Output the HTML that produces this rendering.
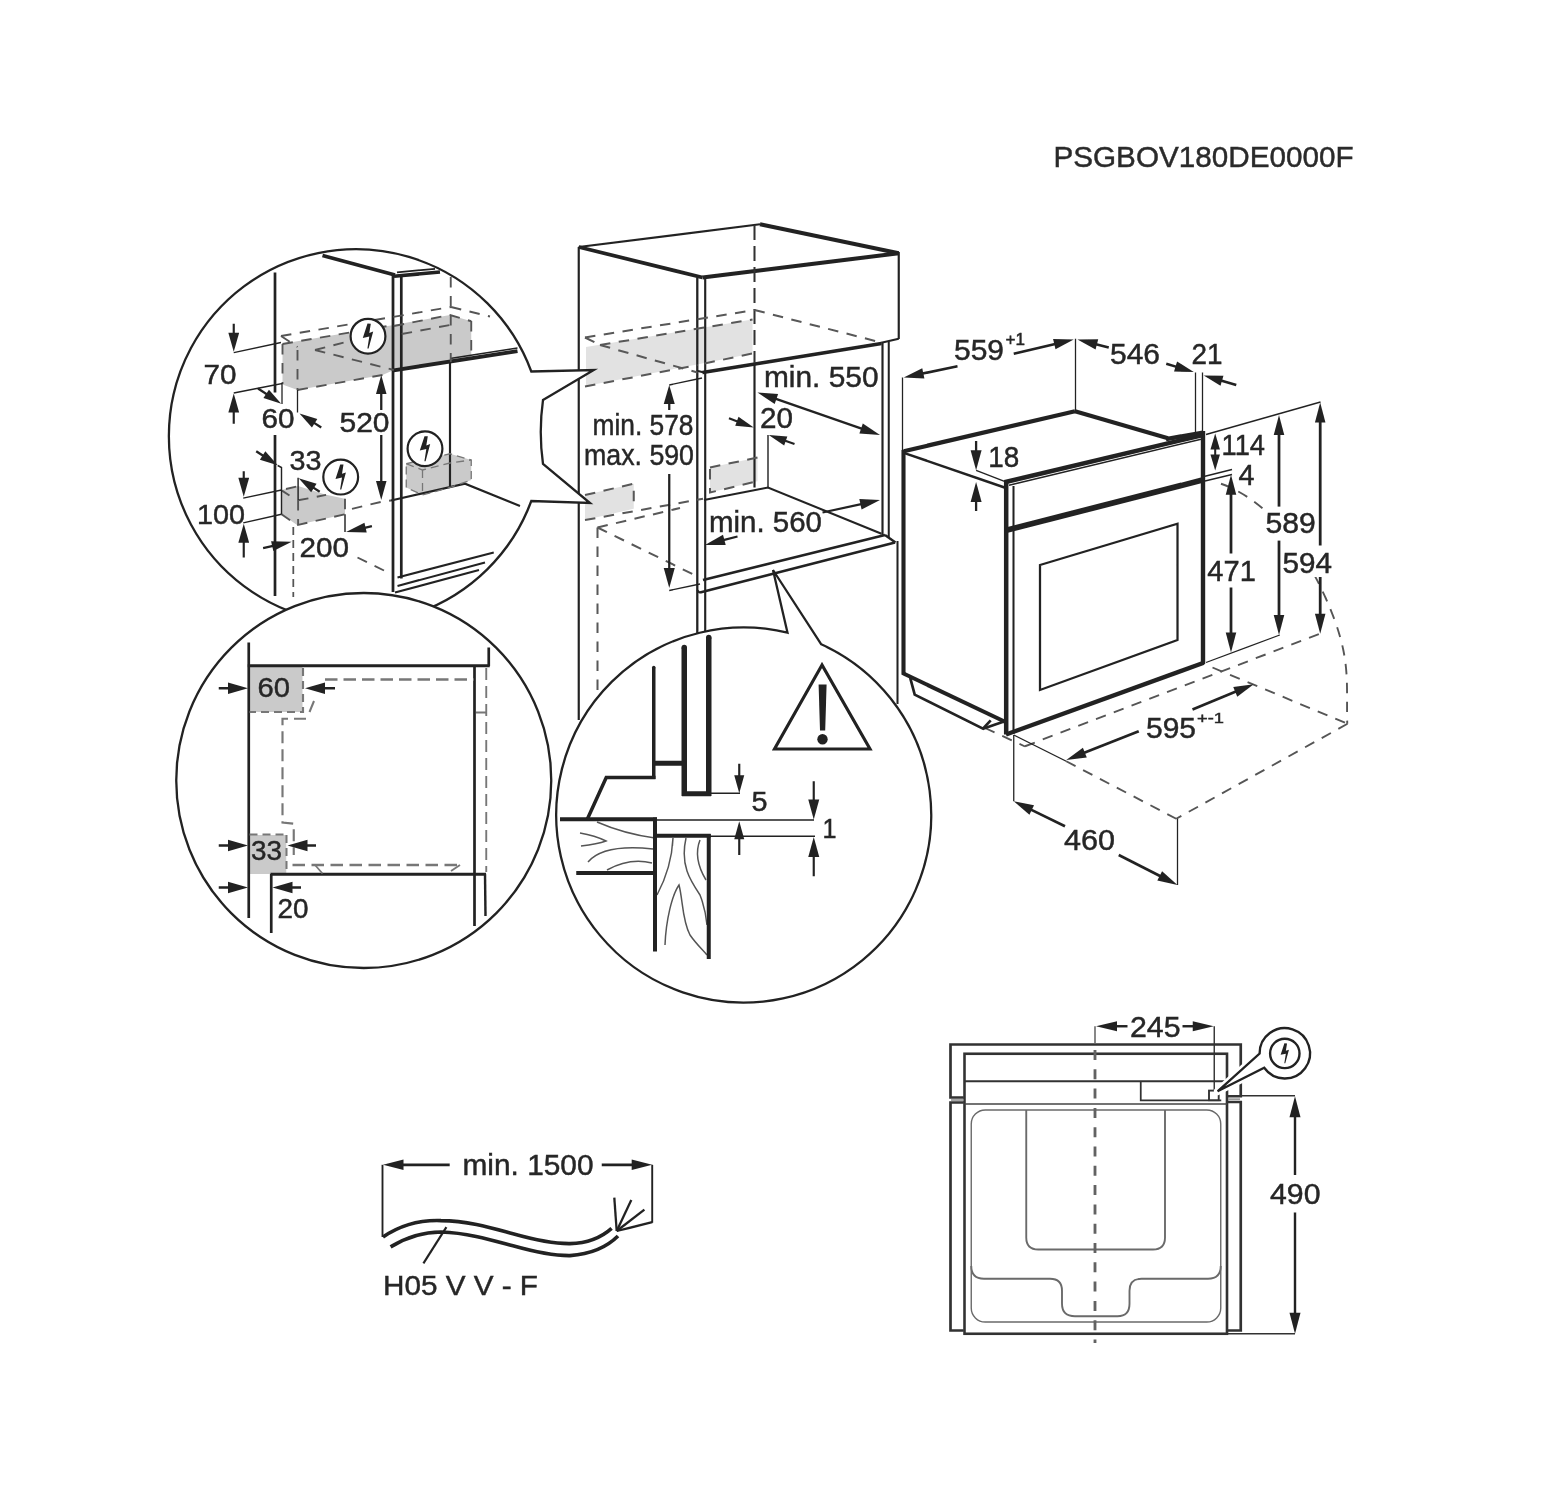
<!DOCTYPE html>
<html><head><meta charset="utf-8"><title>Installation diagram</title>
<style>
html,body{margin:0;padding:0;background:#fff;}
body{width:1554px;height:1486px;overflow:hidden;}
svg{display:block;font-family:"Liberation Sans",sans-serif;}
</style></head><body>
<svg width="1554" height="1486" viewBox="0 0 1554 1486">
<defs><filter id="soft" x="0" y="0" width="1554" height="1486" filterUnits="userSpaceOnUse"><feGaussianBlur stdDeviation="0.75"/></filter></defs>
<rect width="1554" height="1486" fill="#fff"/>
<g filter="url(#soft)">
<text x="1053.5" y="166.5" font-size="29.5" text-anchor="start" fill="#2b2b2b" stroke="#2b2b2b" stroke-width="0.45" textLength="300" lengthAdjust="spacingAndGlyphs" >PSGBOV180DE0000F</text>
<polygon points="586,347 752.5,319.5 752.5,353.5 697,364.5 586,386" fill="#e2e2e2"/>
<polygon points="585,495 633.75,483.75 633.75,508.75 585,520" fill="#e2e2e2"/>
<polygon points="710,467.5 757.5,457.5 757.5,481.25 710,492.5" fill="#e2e2e2"/>
<line x1="578.75" y1="247" x2="578.75" y2="720" stroke="#222" stroke-width="2.16" stroke-linecap="butt"/>
<line x1="578.75" y1="247" x2="760" y2="224.25" stroke="#222" stroke-width="2.16" stroke-linecap="butt"/>
<line x1="760" y1="224.25" x2="898.75" y2="253.25" stroke="#222" stroke-width="3.96" stroke-linecap="butt"/>
<line x1="578.75" y1="247" x2="702.5" y2="277.5" stroke="#222" stroke-width="3.7" stroke-linecap="butt"/>
<line x1="702.5" y1="277.5" x2="898.75" y2="253.25" stroke="#222" stroke-width="4.08" stroke-linecap="butt"/>
<line x1="898.75" y1="252" x2="898.75" y2="339" stroke="#222" stroke-width="2.16" stroke-linecap="butt"/>
<line x1="697.3" y1="277.5" x2="697.3" y2="640" stroke="#222" stroke-width="2.29" stroke-linecap="butt"/>
<line x1="705.2" y1="279" x2="705.2" y2="640" stroke="#222" stroke-width="2.16" stroke-linecap="butt"/>
<line x1="702.5" y1="372.5" x2="881.5" y2="343.5" stroke="#222" stroke-width="3.6" stroke-linecap="butt"/>
<line x1="698" y1="371" x2="704" y2="372.5" stroke="#222" stroke-width="2.03" stroke-linecap="butt"/>
<line x1="881.25" y1="342.7" x2="898.75" y2="338.75" stroke="#222" stroke-width="2.03" stroke-linecap="butt"/>
<line x1="882.5" y1="342.5" x2="882.5" y2="536" stroke="#222" stroke-width="2.16" stroke-linecap="butt"/>
<line x1="888.75" y1="341.5" x2="888.75" y2="538" stroke="#222" stroke-width="2.03" stroke-linecap="butt"/>
<line x1="897.5" y1="541" x2="897.5" y2="704" stroke="#222" stroke-width="2.03" stroke-linecap="butt"/>
<line x1="703" y1="580" x2="885" y2="535" stroke="#222" stroke-width="2.76" stroke-linecap="butt"/>
<line x1="700" y1="592.5" x2="895" y2="542.5" stroke="#222" stroke-width="2.76" stroke-linecap="butt"/>
<line x1="885" y1="535" x2="895.5" y2="542.5" stroke="#222" stroke-width="2.43" stroke-linecap="butt"/>
<line x1="697" y1="590" x2="700" y2="593" stroke="#222" stroke-width="2.03" stroke-linecap="butt"/>
<line x1="754.5" y1="362.5" x2="754.5" y2="487.5" stroke="#222" stroke-width="2.16" stroke-linecap="butt"/>
<line x1="768" y1="435" x2="768" y2="487.5" stroke="#222" stroke-width="1.43" stroke-linecap="butt"/>
<polyline points="704,500 768,487.5 881.5,533.75" fill="none" stroke="#222" stroke-width="2.16" stroke-linejoin="miter"/>
<line x1="754.5" y1="225" x2="754.5" y2="362.5" stroke="#333" stroke-width="2.03" stroke-dasharray="15 6" stroke-linecap="butt"/>
<line x1="585" y1="337.5" x2="754.5" y2="310" stroke="#585858" stroke-width="2.03" stroke-dasharray="10.5 8.5" stroke-linecap="butt"/>
<line x1="754.5" y1="310" x2="881.25" y2="342.5" stroke="#585858" stroke-width="2.03" stroke-dasharray="10.5 8.5" stroke-linecap="butt"/>
<line x1="600" y1="345" x2="752.5" y2="319.5" stroke="#585858" stroke-width="2.03" stroke-dasharray="10.5 8.5" stroke-linecap="butt"/>
<line x1="585" y1="337.5" x2="600" y2="345" stroke="#585858" stroke-width="2.03" stroke-dasharray="10.5 8.5" stroke-linecap="butt"/>
<line x1="600" y1="345" x2="697.5" y2="372.5" stroke="#585858" stroke-width="2.03" stroke-dasharray="10.5 8.5" stroke-linecap="butt"/>
<line x1="585" y1="386.5" x2="697.5" y2="365" stroke="#585858" stroke-width="2.03" stroke-dasharray="10.5 8.5" stroke-linecap="butt"/>
<line x1="704.5" y1="363.5" x2="752.5" y2="353.5" stroke="#585858" stroke-width="2.03" stroke-dasharray="10.5 8.5" stroke-linecap="butt"/>
<polyline points="585,495 633.75,483.75 633.75,508.75" fill="none" stroke="#585858" stroke-width="2.03" stroke-dasharray="10.5 8.5" stroke-linejoin="miter"/>
<polyline points="710,467.5 757.5,457.5" fill="none" stroke="#585858" stroke-width="2.03" stroke-dasharray="10.5 8.5" stroke-linejoin="miter"/>
<polyline points="710,469 710,492.5 757.5,481.25" fill="none" stroke="#585858" stroke-width="2.03" stroke-dasharray="10.5 8.5" stroke-linejoin="miter"/>
<line x1="585" y1="520" x2="703" y2="498.75" stroke="#585858" stroke-width="2.03" stroke-dasharray="10.5 8.5" stroke-linecap="butt"/>
<line x1="597.5" y1="527.5" x2="680" y2="508" stroke="#585858" stroke-width="2.03" stroke-dasharray="10.5 8.5" stroke-linecap="butt"/>
<line x1="597.5" y1="527.5" x2="597.5" y2="695" stroke="#585858" stroke-width="2.03" stroke-dasharray="10.5 8.5" stroke-linecap="butt"/>
<line x1="597.5" y1="527.5" x2="697" y2="576.25" stroke="#585858" stroke-width="2.03" stroke-dasharray="10.5 8.5" stroke-linecap="butt"/>
<line x1="669.25" y1="385" x2="702" y2="378" stroke="#222" stroke-width="1.3" stroke-linecap="butt"/>
<line x1="669.25" y1="410" x2="669.25" y2="402" stroke="#222" stroke-width="2.29" stroke-linecap="butt"/>
<polygon points="669.25,385 674.75,404 663.75,404" fill="#222"/>
<line x1="669.25" y1="474" x2="669.25" y2="570" stroke="#222" stroke-width="2.29" stroke-linecap="butt"/>
<polygon points="669.25,588 663.75,568 674.75,568" fill="#222"/>
<line x1="669.25" y1="590.5" x2="700" y2="584" stroke="#222" stroke-width="1.3" stroke-linecap="butt"/>
<text x="592.5" y="435.3" font-size="28.6" text-anchor="start" fill="#262626" stroke="#262626" stroke-width="0.45" textLength="101" lengthAdjust="spacingAndGlyphs" >min. 578</text>
<text x="584" y="465.3" font-size="28.6" text-anchor="start" fill="#262626" stroke="#262626" stroke-width="0.45" textLength="110" lengthAdjust="spacingAndGlyphs" >max. 590</text>
<text x="764" y="386.5" font-size="28.6" text-anchor="start" fill="#262626" stroke="#262626" stroke-width="0.45" textLength="114.5" lengthAdjust="spacingAndGlyphs" >min. 550</text>
<polygon points="757.5,392.5 778.12,394.1 774.67,404.02" fill="#222"/>
<line x1="774.51" y1="398.4" x2="862.99" y2="429.1" stroke="#222" stroke-width="2.29" stroke-linecap="butt"/>
<polygon points="880,435 859.38,433.4 862.83,423.48" fill="#222"/>
<text x="760" y="427.7" font-size="28.6" text-anchor="start" fill="#262626" stroke="#262626" stroke-width="0.45" textLength="33" lengthAdjust="spacingAndGlyphs" >20</text>
<line x1="729" y1="418.3" x2="738.75" y2="421.93" stroke="#222" stroke-width="2.16" stroke-linecap="butt"/>
<polygon points="753.75,427.5 735.22,425.68 738.53,416.78" fill="#222"/>
<line x1="794.5" y1="444" x2="783.85" y2="440.28" stroke="#222" stroke-width="2.16" stroke-linecap="butt"/>
<polygon points="768.75,435 787.31,436.45 784.17,445.42" fill="#222"/>
<text x="709" y="531.5" font-size="28.6" text-anchor="start" fill="#262626" stroke="#262626" stroke-width="0.45" textLength="113" lengthAdjust="spacingAndGlyphs" >min. 560</text>
<line x1="822.5" y1="512.5" x2="862.41" y2="503.82" stroke="#222" stroke-width="2.29" stroke-linecap="butt"/>
<polygon points="880,500 861.57,509.38 859.34,499.12" fill="#222"/>
<line x1="737.5" y1="536.5" x2="722.41" y2="540.45" stroke="#222" stroke-width="2.29" stroke-linecap="butt"/>
<polygon points="705,545 723.02,534.86 725.68,545.02" fill="#222"/>
<line x1="1025" y1="746.25" x2="1320" y2="633.75" stroke="#555" stroke-width="1.89" stroke-dasharray="10.5 8.5" stroke-linecap="butt"/>
<line x1="1212.5" y1="667.5" x2="1347.5" y2="723.75" stroke="#555" stroke-width="1.89" stroke-dasharray="10.5 8.5" stroke-linecap="butt"/>
<line x1="1347.5" y1="723.75" x2="1176.25" y2="818.75" stroke="#555" stroke-width="1.89" stroke-dasharray="10.5 8.5" stroke-linecap="butt"/>
<line x1="1066.25" y1="761.25" x2="1176.25" y2="818.75" stroke="#555" stroke-width="1.89" stroke-dasharray="10.5 8.5" stroke-linecap="butt"/>
<line x1="985" y1="728" x2="1025" y2="746.5" stroke="#555" stroke-width="1.89" stroke-dasharray="10.5 8.5" stroke-linecap="butt"/>
<path d="M1221,483.75 C1262,498 1300,540 1326,598.75 S1346,680 1347.25,723.75" fill="none" stroke="#555" stroke-width="1.89" stroke-dasharray="10.5 8.5" />
<line x1="903.75" y1="451.25" x2="1075" y2="411.25" stroke="#222" stroke-width="4.3" stroke-linecap="butt"/>
<line x1="1075" y1="411.25" x2="1168" y2="438.2" stroke="#222" stroke-width="4.1" stroke-linecap="butt"/>
<line x1="1166" y1="439.2" x2="1203" y2="432.6" stroke="#222" stroke-width="4.4" stroke-linecap="butt"/>
<line x1="903.75" y1="452.8" x2="1004.5" y2="487.5" stroke="#222" stroke-width="2.43" stroke-linecap="butt"/>
<line x1="1004.5" y1="482.3" x2="1203" y2="435" stroke="#222" stroke-width="4.6" stroke-linecap="butt"/>
<line x1="1009" y1="485.3" x2="1201" y2="439.2" stroke="#222" stroke-width="1.43" stroke-linecap="butt"/>
<line x1="903.5" y1="450" x2="903.5" y2="674.5" stroke="#222" stroke-width="4.1" stroke-linecap="butt"/>
<line x1="1006.2" y1="480.5" x2="1006.2" y2="734.5" stroke="#222" stroke-width="4.5" stroke-linecap="butt"/>
<line x1="1013.5" y1="486" x2="1013.5" y2="734" stroke="#222" stroke-width="2.03" stroke-linecap="butt"/>
<line x1="1203" y1="431" x2="1203" y2="664" stroke="#222" stroke-width="4.4" stroke-linecap="butt"/>
<line x1="1006.25" y1="530.3" x2="1202.5" y2="480" stroke="#222" stroke-width="5.6" stroke-linecap="butt"/>
<line x1="1006" y1="734.5" x2="1203.75" y2="662.7" stroke="#222" stroke-width="4.4" stroke-linecap="butt"/>
<line x1="902.5" y1="673" x2="1005.5" y2="722" stroke="#222" stroke-width="4.0" stroke-linecap="butt"/>
<polyline points="910.2,677.9 914.7,694.6 983,728.7 990.7,720.3" fill="none" stroke="#222" stroke-width="2.7" stroke-linejoin="miter"/>
<line x1="983" y1="728.7" x2="1004" y2="721.5" stroke="#222" stroke-width="2.7" stroke-linecap="butt"/>
<polygon points="1040,565 1177.5,523.75 1177.5,640 1040,690" fill="none" stroke="#222" stroke-width="2.23" stroke-linejoin="miter"/>
<line x1="902.5" y1="377.5" x2="902.5" y2="450" stroke="#222" stroke-width="1.3" stroke-linecap="butt"/>
<line x1="1075.5" y1="338.75" x2="1075.5" y2="411" stroke="#222" stroke-width="1.3" stroke-linecap="butt"/>
<line x1="1195.5" y1="372.5" x2="1195.5" y2="433" stroke="#222" stroke-width="1.3" stroke-linecap="butt"/>
<line x1="1202.5" y1="372.5" x2="1202.5" y2="432.5" stroke="#222" stroke-width="1.3" stroke-linecap="butt"/>
<line x1="1206" y1="434.5" x2="1320.5" y2="402" stroke="#222" stroke-width="1.3" stroke-linecap="butt"/>
<line x1="1205" y1="476.25" x2="1232" y2="469.5" stroke="#222" stroke-width="1.3" stroke-linecap="butt"/>
<line x1="1205" y1="481" x2="1232" y2="474.5" stroke="#222" stroke-width="1.3" stroke-linecap="butt"/>
<line x1="1206" y1="662.5" x2="1279.75" y2="635" stroke="#222" stroke-width="1.3" stroke-linecap="butt"/>
<line x1="1013.75" y1="735" x2="1066.25" y2="761.25" stroke="#222" stroke-width="1.3" stroke-linecap="butt"/>
<line x1="1013.75" y1="735" x2="1013.75" y2="801.25" stroke="#222" stroke-width="1.3" stroke-linecap="butt"/>
<line x1="1177.5" y1="818.75" x2="1177.5" y2="885" stroke="#222" stroke-width="1.3" stroke-linecap="butt"/>
<line x1="976.1" y1="470.3" x2="1004.5" y2="481.3" stroke="#222" stroke-width="1.3" stroke-linecap="butt"/>
<line x1="957.5" y1="366.25" x2="921.37" y2="373.81" stroke="#222" stroke-width="2.56" stroke-linecap="butt"/>
<polygon points="903.75,377.5 922.25,368.26 924.4,378.54" fill="#222"/>
<line x1="1013.75" y1="353.75" x2="1056.24" y2="343.66" stroke="#222" stroke-width="2.56" stroke-linecap="butt"/>
<polygon points="1073.75,339.5 1055.5,349.23 1053.08,339.01" fill="#222"/>
<text x="954" y="360" font-size="28.8" text-anchor="start" fill="#262626" stroke="#262626" stroke-width="0.45" textLength="50" lengthAdjust="spacingAndGlyphs" >559</text>
<text x="1005.5" y="345.3" font-size="16" text-anchor="start" fill="#262626" stroke="#262626" stroke-width="0.45" textLength="19.5" lengthAdjust="spacingAndGlyphs" >+1</text>
<line x1="1108.75" y1="347.5" x2="1094.94" y2="343.96" stroke="#222" stroke-width="2.56" stroke-linecap="butt"/>
<polygon points="1077.5,339.5 1098.18,339.37 1095.57,349.55" fill="#222"/>
<line x1="1166.25" y1="363.75" x2="1177.47" y2="367.12" stroke="#222" stroke-width="2.56" stroke-linecap="butt"/>
<polygon points="1193.75,372 1174.04,371.57 1177.06,361.51" fill="#222"/>
<text x="1110" y="363.8" font-size="28.8" text-anchor="start" fill="#262626" stroke="#262626" stroke-width="0.45" textLength="50" lengthAdjust="spacingAndGlyphs" >546</text>
<text x="1191.5" y="363.8" font-size="28.8" text-anchor="start" fill="#262626" stroke="#262626" stroke-width="0.45" textLength="31" lengthAdjust="spacingAndGlyphs" >21</text>
<line x1="1236.25" y1="385" x2="1220.07" y2="380.27" stroke="#222" stroke-width="2.56" stroke-linecap="butt"/>
<polygon points="1203.75,375.5 1223.46,375.79 1220.51,385.87" fill="#222"/>
<text x="988.2" y="467.4" font-size="28.8" text-anchor="start" fill="#262626" stroke="#262626" stroke-width="0.45" textLength="31" lengthAdjust="spacingAndGlyphs" >18</text>
<line x1="976.1" y1="441" x2="976.1" y2="452.3" stroke="#222" stroke-width="2.29" stroke-linecap="butt"/>
<polygon points="976.1,470.3 970.6,450.3 981.6,450.3" fill="#222"/>
<line x1="976.1" y1="511" x2="976.1" y2="500" stroke="#222" stroke-width="2.29" stroke-linecap="butt"/>
<polygon points="976.1,482 981.6,502 970.6,502" fill="#222"/>
<polygon points="1215.2,433.5 1219.95,449.5 1210.45,449.5" fill="#222"/>
<line x1="1215.2" y1="447.5" x2="1215.2" y2="456.5" stroke="#222" stroke-width="2.03" stroke-linecap="butt"/>
<polygon points="1215.2,470.5 1210.45,454.5 1219.95,454.5" fill="#222"/>
<text x="1221.5" y="454.5" font-size="28.8" text-anchor="start" fill="#262626" stroke="#262626" stroke-width="0.45" textLength="43.5" lengthAdjust="spacingAndGlyphs" >114</text>
<text x="1238.5" y="484.8" font-size="28.8" text-anchor="start" fill="#262626" stroke="#262626" stroke-width="0.45" textLength="16" lengthAdjust="spacingAndGlyphs" >4</text>
<line x1="1231" y1="553.5" x2="1231" y2="492.8" stroke="#222" stroke-width="2.77" stroke-linecap="butt"/>
<polygon points="1231,474.8 1236.25,494.8 1225.75,494.8" fill="#222"/>
<line x1="1231" y1="587.5" x2="1231" y2="634.5" stroke="#222" stroke-width="2.77" stroke-linecap="butt"/>
<polygon points="1231,652.5 1225.75,632.5 1236.25,632.5" fill="#222"/>
<text x="1207.3" y="580.5" font-size="28.8" text-anchor="start" fill="#262626" stroke="#262626" stroke-width="0.45" textLength="48.5" lengthAdjust="spacingAndGlyphs" >471</text>
<polygon points="1264,509 1318,509 1318,548 1334,548 1334,577 1281,577 1281,536 1264,536" fill="#fff"/>
<line x1="1279" y1="506.6" x2="1279" y2="433" stroke="#222" stroke-width="2.77" stroke-linecap="butt"/>
<polygon points="1279,415 1284.25,435 1273.75,435" fill="#222"/>
<line x1="1279" y1="540.6" x2="1279" y2="617" stroke="#222" stroke-width="2.77" stroke-linecap="butt"/>
<polygon points="1279,635 1273.75,615 1284.25,615" fill="#222"/>
<text x="1265.4" y="533.3" font-size="28.8" text-anchor="start" fill="#262626" stroke="#262626" stroke-width="0.45" textLength="50.3" lengthAdjust="spacingAndGlyphs" >589</text>
<line x1="1320.2" y1="545.5" x2="1320.2" y2="420.5" stroke="#222" stroke-width="2.77" stroke-linecap="butt"/>
<polygon points="1320.2,402.5 1325.45,422.5 1314.95,422.5" fill="#222"/>
<line x1="1320.2" y1="577" x2="1320.2" y2="615.75" stroke="#222" stroke-width="2.77" stroke-linecap="butt"/>
<polygon points="1320.2,633.75 1314.95,613.75 1325.45,613.75" fill="#222"/>
<text x="1282.4" y="572.7" font-size="28.8" text-anchor="start" fill="#262626" stroke="#262626" stroke-width="0.45" textLength="49.5" lengthAdjust="spacingAndGlyphs" >594</text>
<line x1="1065" y1="826.25" x2="1029.93" y2="809.14" stroke="#222" stroke-width="2.7" stroke-linecap="butt"/>
<polygon points="1013.75,801.25 1034.03,805.3 1029.42,814.74" fill="#222"/>
<line x1="1118.75" y1="855" x2="1161.47" y2="876.81" stroke="#222" stroke-width="2.7" stroke-linecap="butt"/>
<polygon points="1177.5,885 1157.3,880.58 1162.08,871.23" fill="#222"/>
<text x="1064" y="850" font-size="28.8" text-anchor="start" fill="#262626" stroke="#262626" stroke-width="0.45" textLength="51" lengthAdjust="spacingAndGlyphs" >460</text>
<line x1="1138.75" y1="731.25" x2="1082.98" y2="753.36" stroke="#222" stroke-width="2.7" stroke-linecap="butt"/>
<polygon points="1066.25,760 1082.91,747.75 1086.78,757.51" fill="#222"/>
<line x1="1192.5" y1="709.5" x2="1237.11" y2="691.11" stroke="#222" stroke-width="2.7" stroke-linecap="butt"/>
<polygon points="1253.75,684.25 1237.26,696.73 1233.26,687.02" fill="#222"/>
<text x="1146" y="737.5" font-size="28.8" text-anchor="start" fill="#262626" stroke="#262626" stroke-width="0.45" textLength="50" lengthAdjust="spacingAndGlyphs" >595</text>
<text x="1197" y="722.5" font-size="15.5" text-anchor="start" fill="#262626" stroke="#262626" stroke-width="0.45" textLength="27" lengthAdjust="spacingAndGlyphs" >+-1</text>
<clipPath id="c1"><path d="M531.3,371.5 A187 187 0 1 0 531.3,501 L590,503 L543,464 Q538.5,432 543,400 L593.75,370 Z"/></clipPath>
<path d="M531.3,371.5 A187 187 0 1 0 531.3,501 L590,503 L543,464 Q538.5,432 543,400 L593.75,370 Z" fill="#fff" stroke="#222" stroke-width="2.29" />
<g clip-path="url(#c1)">
<polygon points="282.5,343.75 393.75,325 393.75,370 382.5,375 297.5,390 282.5,384.5" fill="#cacaca"/>
<polygon points="393.75,325 450,315 471.25,321.25 471.25,357.5 393.75,370" fill="#cacaca"/>
<polygon points="281.5,490.1 298.1,486.1 325.1,494.4 345,498.7 345,514.3 297.1,525.1 281.5,514.3" fill="#cacaca"/>
<polygon points="406.25,463.75 450,453.75 471.25,460 471.25,480 450,487.5 422.5,495 406.25,487.5" fill="#cacaca"/>
<line x1="275" y1="272.5" x2="275" y2="392.5" stroke="#222" stroke-width="2.7" stroke-linecap="butt"/>
<line x1="275" y1="435" x2="275" y2="596" stroke="#222" stroke-width="2.7" stroke-linecap="butt"/>
<line x1="322.5" y1="255.5" x2="395" y2="275" stroke="#222" stroke-width="3.84" stroke-linecap="butt"/>
<line x1="397" y1="272.3" x2="435" y2="268.8" stroke="#222" stroke-width="1.76" stroke-linecap="butt"/>
<line x1="394" y1="276.3" x2="440" y2="272" stroke="#222" stroke-width="3.6" stroke-linecap="butt"/>
<line x1="393" y1="274" x2="393" y2="592" stroke="#222" stroke-width="2.76" stroke-linecap="butt"/>
<line x1="401.3" y1="277" x2="401.3" y2="578.5" stroke="#222" stroke-width="2.7" stroke-linecap="butt"/>
<line x1="450" y1="362.5" x2="450" y2="486" stroke="#222" stroke-width="2.16" stroke-linecap="butt"/>
<line x1="393.75" y1="370.3" x2="517.5" y2="351.2" stroke="#222" stroke-width="3.84" stroke-linecap="butt"/>
<line x1="450" y1="358.5" x2="517.5" y2="348" stroke="#222" stroke-width="1.3" stroke-linecap="butt"/>
<polyline points="391,500.5 465,483.75 520,506" fill="none" stroke="#222" stroke-width="2.16" stroke-linejoin="miter"/>
<line x1="397.5" y1="577.5" x2="493.75" y2="552.5" stroke="#222" stroke-width="2.16" stroke-linecap="butt"/>
<line x1="397.5" y1="586" x2="485" y2="562.5" stroke="#222" stroke-width="2.16" stroke-linecap="butt"/>
<line x1="395" y1="592.5" x2="479" y2="570" stroke="#222" stroke-width="2.16" stroke-linecap="butt"/>
<line x1="281" y1="336" x2="451" y2="307" stroke="#555" stroke-width="1.89" stroke-dasharray="10.5 8.5" stroke-linecap="butt"/>
<line x1="451" y1="307" x2="490" y2="316.5" stroke="#555" stroke-width="1.89" stroke-dasharray="10.5 8.5" stroke-linecap="butt"/>
<line x1="450.75" y1="277" x2="450.75" y2="362" stroke="#555" stroke-width="1.89" stroke-dasharray="10.5 8.5" stroke-linecap="butt"/>
<line x1="282.5" y1="344" x2="393.75" y2="325" stroke="#555" stroke-width="1.89" stroke-dasharray="10.5 8.5" stroke-linecap="butt"/>
<polyline points="393.75,326 450,315 471.25,321.25" fill="none" stroke="#555" stroke-width="1.89" stroke-dasharray="10.5 8.5" stroke-linejoin="miter"/>
<line x1="401.7" y1="334" x2="450" y2="325" stroke="#555" stroke-width="1.89" stroke-dasharray="10.5 8.5" stroke-linecap="butt"/>
<line x1="315" y1="350" x2="393.75" y2="370" stroke="#555" stroke-width="1.89" stroke-dasharray="10.5 8.5" stroke-linecap="butt"/>
<line x1="315" y1="350" x2="350" y2="341" stroke="#555" stroke-width="1.89" stroke-dasharray="10.5 8.5" stroke-linecap="butt"/>
<line x1="297.5" y1="390" x2="382.5" y2="375" stroke="#555" stroke-width="1.89" stroke-dasharray="10.5 8.5" stroke-linecap="butt"/>
<line x1="282.5" y1="344" x2="282.5" y2="384" stroke="#555" stroke-width="1.89" stroke-dasharray="10.5 8.5" stroke-linecap="butt"/>
<line x1="297.5" y1="350" x2="297.5" y2="390" stroke="#555" stroke-width="1.89" stroke-dasharray="10.5 8.5" stroke-linecap="butt"/>
<line x1="281" y1="336" x2="297.5" y2="347" stroke="#555" stroke-width="1.89" stroke-dasharray="10.5 8.5" stroke-linecap="butt"/>
<line x1="471.25" y1="321" x2="471.25" y2="357" stroke="#555" stroke-width="1.89" stroke-dasharray="10.5 8.5" stroke-linecap="butt"/>
<polyline points="352,508.9 381,501.9 391,500.5" fill="none" stroke="#555" stroke-width="1.89" stroke-dasharray="10.5 8.5" stroke-linejoin="miter"/>
<line x1="293.3" y1="527" x2="293.3" y2="597" stroke="#555" stroke-width="1.76" stroke-dasharray="8 5" stroke-linecap="butt"/>
<line x1="357.5" y1="557.5" x2="385" y2="571" stroke="#555" stroke-width="1.89" stroke-dasharray="10.5 8.5" stroke-linecap="butt"/>
<polyline points="297.1,525.1 345,514.3" fill="none" stroke="#555" stroke-width="1.89" stroke-dasharray="10.5 8.5" stroke-linejoin="miter"/>
<polyline points="281.5,514.3 297.1,525.1" fill="none" stroke="#555" stroke-width="1.89" stroke-dasharray="10.5 8.5" stroke-linejoin="miter"/>
<line x1="298.1" y1="500.3" x2="326.1" y2="494.9" stroke="#555" stroke-width="1.89" stroke-dasharray="10.5 8.5" stroke-linecap="butt"/>
<line x1="298.1" y1="500" x2="298.1" y2="524" stroke="#555" stroke-width="1.89" stroke-dasharray="10.5 8.5" stroke-linecap="butt"/>
<line x1="282" y1="490.6" x2="289.5" y2="495.5" stroke="#555" stroke-width="1.89" stroke-dasharray="10.5 8.5" stroke-linecap="butt"/>
<line x1="345" y1="498.7" x2="345" y2="514.3" stroke="#555" stroke-width="1.89" stroke-dasharray="10.5 8.5" stroke-linecap="butt"/>
<line x1="286" y1="489" x2="298" y2="486.3" stroke="#555" stroke-width="1.89" stroke-dasharray="10.5 8.5" stroke-linecap="butt"/>
<polygon points="406.25,463.75 450,453.75 471.25,460 471.25,480 450,487.5 422.5,495 406.25,487.5" fill="none" stroke="#777" stroke-width="1.3" stroke-dasharray="8 5" stroke-linejoin="miter"/>
<line x1="422.5" y1="470" x2="422.5" y2="495" stroke="#777" stroke-width="1.3" stroke-dasharray="8 5" stroke-linecap="butt"/>
<polyline points="406.25,463.75 422.5,470 450,463 471.25,460" fill="none" stroke="#777" stroke-width="1.3" stroke-dasharray="8 5" stroke-linejoin="miter"/>
<line x1="233.75" y1="323.75" x2="233.75" y2="334.8" stroke="#222" stroke-width="2.16" stroke-linecap="butt"/>
<polygon points="233.75,351.8 228.35,332.8 239.15,332.8" fill="#222"/>
<line x1="233.75" y1="352.7" x2="281" y2="342.5" stroke="#222" stroke-width="1.3" stroke-linecap="butt"/>
<polyline points="233.75,393 272,385.5 282,383.5 282,404" fill="none" stroke="#222" stroke-width="1.3" stroke-linejoin="miter"/>
<line x1="233.75" y1="423.75" x2="233.75" y2="410.5" stroke="#222" stroke-width="2.16" stroke-linecap="butt"/>
<polygon points="233.75,393.5 239.15,412.5 228.35,412.5" fill="#222"/>
<text x="203.5" y="384" font-size="27.5" text-anchor="start" fill="#262626" stroke="#262626" stroke-width="0.45" textLength="33" lengthAdjust="spacingAndGlyphs" >70</text>
<line x1="258" y1="388.5" x2="267.87" y2="394.97" stroke="#222" stroke-width="2.29" stroke-linecap="butt"/>
<polygon points="281.25,403.75 263.46,398.06 268.94,389.7" fill="#222"/>
<line x1="297.5" y1="390" x2="297.5" y2="412.5" stroke="#222" stroke-width="1.3" stroke-linecap="butt"/>
<line x1="321.25" y1="427.5" x2="312.95" y2="422.16" stroke="#222" stroke-width="2.29" stroke-linecap="butt"/>
<polygon points="299.5,413.5 317.34,419.04 311.93,427.45" fill="#222"/>
<text x="261.5" y="427.8" font-size="27.5" text-anchor="start" fill="#262626" stroke="#262626" stroke-width="0.45" textLength="33" lengthAdjust="spacingAndGlyphs" >60</text>
<line x1="381.25" y1="410" x2="381.25" y2="392" stroke="#222" stroke-width="2.29" stroke-linecap="butt"/>
<polygon points="381.25,375 386.5,394 376,394" fill="#222"/>
<line x1="381.25" y1="435" x2="381.25" y2="483" stroke="#222" stroke-width="2.29" stroke-linecap="butt"/>
<polygon points="381.25,500 376,481 386.5,481" fill="#222"/>
<text x="339.5" y="431.5" font-size="27.5" text-anchor="start" fill="#262626" stroke="#262626" stroke-width="0.45" textLength="50" lengthAdjust="spacingAndGlyphs" >520</text>
<line x1="256.2" y1="451.3" x2="264.29" y2="456.57" stroke="#222" stroke-width="2.29" stroke-linecap="butt"/>
<polygon points="277.7,465.3 259.89,459.67 265.34,451.29" fill="#222"/>
<polyline points="277.7,465.5 281.5,467.5 281.5,514.3" fill="none" stroke="#222" stroke-width="1.43" stroke-linejoin="miter"/>
<line x1="319.7" y1="491.7" x2="312.16" y2="486.85" stroke="#222" stroke-width="2.29" stroke-linecap="butt"/>
<polygon points="298.7,478.2 316.55,483.73 311.14,492.14" fill="#222"/>
<line x1="298.1" y1="477.7" x2="298.1" y2="500" stroke="#222" stroke-width="1.43" stroke-linecap="butt"/>
<text x="289.5" y="470.2" font-size="27.5" text-anchor="start" fill="#262626" stroke="#262626" stroke-width="0.45" textLength="32" lengthAdjust="spacingAndGlyphs" >33</text>
<line x1="243.75" y1="471.25" x2="243.75" y2="479.8" stroke="#222" stroke-width="2.16" stroke-linecap="butt"/>
<polygon points="243.75,496.8 238.35,477.8 249.15,477.8" fill="#222"/>
<line x1="243.2" y1="498.1" x2="281.5" y2="490" stroke="#222" stroke-width="1.43" stroke-linecap="butt"/>
<line x1="243.75" y1="557.5" x2="243.75" y2="540.75" stroke="#222" stroke-width="2.16" stroke-linecap="butt"/>
<polygon points="243.75,523.75 249.15,542.75 238.35,542.75" fill="#222"/>
<line x1="243.2" y1="522.9" x2="281.5" y2="514.3" stroke="#222" stroke-width="1.43" stroke-linecap="butt"/>
<text x="197" y="524" font-size="27.5" text-anchor="start" fill="#262626" stroke="#262626" stroke-width="0.45" textLength="48" lengthAdjust="spacingAndGlyphs" >100</text>
<line x1="263.1" y1="548.2" x2="274.15" y2="545.69" stroke="#222" stroke-width="2.29" stroke-linecap="butt"/>
<polygon points="291.7,541.7 273.31,551.01 271.09,541.26" fill="#222"/>
<line x1="345" y1="514.3" x2="345" y2="532" stroke="#222" stroke-width="1.43" stroke-linecap="butt"/>
<line x1="371.9" y1="526.1" x2="363.63" y2="528.02" stroke="#222" stroke-width="2.29" stroke-linecap="butt"/>
<polygon points="346.1,532.1 364.45,522.7 366.71,532.44" fill="#222"/>
<text x="299.5" y="557" font-size="27.5" text-anchor="start" fill="#262626" stroke="#262626" stroke-width="0.45" textLength="49.5" lengthAdjust="spacingAndGlyphs" >200</text>
<circle cx="368" cy="336.2" r="17.4" fill="#fff" stroke="#222" stroke-width="2.2"/>
<polygon points="367.5,323.6 370.8,323.7 369.3,332.9 373.2,331.5 368.6,348.6 367.4,348.6 369.3,336.5 362.8,338" fill="#222"/>
<circle cx="425" cy="448.75" r="17.4" fill="#fff" stroke="#222" stroke-width="2.2"/>
<polygon points="424.5,436.15 427.8,436.25 426.3,445.45 430.2,444.05 425.6,461.15 424.4,461.15 426.3,449.05 419.8,450.55" fill="#222"/>
<circle cx="340.7" cy="477.1" r="17.4" fill="#fff" stroke="#222" stroke-width="2.2"/>
<polygon points="340.2,464.5 343.5,464.6 342,473.8 345.9,472.4 341.3,489.5 340.1,489.5 342,477.4 335.5,478.9" fill="#222"/>
</g>
<clipPath id="c2"><circle cx="363.75" cy="780.5" r="187.5"/></clipPath>
<circle cx="363.75" cy="780.5" r="187.5" fill="#fff" stroke="#222" stroke-width="2.3"/>
<g clip-path="url(#c2)">
<rect x="249.5" y="667" width="53" height="45" fill="#cacaca"/>
<rect x="249.5" y="835" width="36.75" height="39" fill="#cacaca"/>
<line x1="248.75" y1="642.5" x2="248.75" y2="918" stroke="#222" stroke-width="2.7" stroke-linecap="butt"/>
<line x1="247.75" y1="665.7" x2="489.75" y2="665.7" stroke="#222" stroke-width="3.12" stroke-linecap="butt"/>
<line x1="488.75" y1="647.5" x2="488.75" y2="666" stroke="#222" stroke-width="2.7" stroke-linecap="butt"/>
<line x1="474.5" y1="666" x2="474.5" y2="926" stroke="#222" stroke-width="2.7" stroke-linecap="butt"/>
<line x1="485" y1="873.75" x2="485.5" y2="916" stroke="#222" stroke-width="2.43" stroke-linecap="butt"/>
<line x1="270.5" y1="874.25" x2="486" y2="874.25" stroke="#222" stroke-width="2.97" stroke-linecap="butt"/>
<line x1="271.25" y1="874" x2="271.25" y2="933" stroke="#222" stroke-width="2.7" stroke-linecap="butt"/>
<line x1="486.25" y1="668" x2="486.25" y2="872" stroke="#777" stroke-width="1.89" stroke-dasharray="12 6" stroke-linecap="butt"/>
<polyline points="303,668 303,712 249.5,712" fill="none" stroke="#777" stroke-width="2.16" stroke-dasharray="8 5" stroke-linejoin="miter"/>
<line x1="309.5" y1="712" x2="314" y2="701" stroke="#777" stroke-width="2.03" stroke-linecap="butt"/>
<line x1="325" y1="679.5" x2="474" y2="679.5" stroke="#777" stroke-width="2.7" stroke-dasharray="12.5 6" stroke-linecap="butt"/>
<polyline points="306,718.75 282.5,718.75 282.5,822.5 293.75,823.75 293.75,855" fill="none" stroke="#777" stroke-width="2.16" stroke-dasharray="12 6" stroke-linejoin="miter"/>
<line x1="292.5" y1="865" x2="462.5" y2="865" stroke="#777" stroke-width="2.29" stroke-dasharray="12.5 6.5" stroke-linecap="butt"/>
<line x1="249.5" y1="834.5" x2="286.5" y2="834.5" stroke="#777" stroke-width="2.03" stroke-dasharray="8 5" stroke-linecap="butt"/>
<line x1="286.5" y1="835" x2="286.5" y2="874" stroke="#777" stroke-width="2.03" stroke-dasharray="8 5" stroke-linecap="butt"/>
<line x1="315" y1="865" x2="322.5" y2="873.5" stroke="#777" stroke-width="1.76" stroke-linecap="butt"/>
<line x1="451" y1="871" x2="460" y2="865" stroke="#777" stroke-width="1.76" stroke-linecap="butt"/>
<line x1="476" y1="712.5" x2="486.5" y2="712.5" stroke="#777" stroke-width="1.76" stroke-linecap="butt"/>
<line x1="218.75" y1="688.25" x2="230" y2="688.25" stroke="#222" stroke-width="2.43" stroke-linecap="butt"/>
<polygon points="248,688.25 228,694 228,682.5" fill="#222"/>
<line x1="335" y1="688.25" x2="323" y2="688.25" stroke="#222" stroke-width="2.43" stroke-linecap="butt"/>
<polygon points="305,688.25 325,682.5 325,694" fill="#222"/>
<line x1="218.75" y1="845.5" x2="230" y2="845.5" stroke="#222" stroke-width="2.43" stroke-linecap="butt"/>
<polygon points="248,845.5 228,851.25 228,839.75" fill="#222"/>
<line x1="316" y1="845.5" x2="305.5" y2="845.5" stroke="#222" stroke-width="2.43" stroke-linecap="butt"/>
<polygon points="287.5,845.5 307.5,839.75 307.5,851.25" fill="#222"/>
<line x1="218.75" y1="887.5" x2="230" y2="887.5" stroke="#222" stroke-width="2.43" stroke-linecap="butt"/>
<polygon points="248,887.5 228,893.25 228,881.75" fill="#222"/>
<line x1="301" y1="887.5" x2="290.5" y2="887.5" stroke="#222" stroke-width="2.43" stroke-linecap="butt"/>
<polygon points="272.5,887.5 292.5,881.75 292.5,893.25" fill="#222"/>
<text x="257.5" y="696.8" font-size="28" text-anchor="start" fill="#262626" stroke="#262626" stroke-width="0.45" textLength="32.5" lengthAdjust="spacingAndGlyphs" >60</text>
<text x="251" y="860" font-size="27" text-anchor="start" fill="#262626" stroke="#262626" stroke-width="0.45" textLength="31" lengthAdjust="spacingAndGlyphs" >33</text>
<text x="277.5" y="917.5" font-size="27" text-anchor="start" fill="#262626" stroke="#262626" stroke-width="0.45" textLength="31" lengthAdjust="spacingAndGlyphs" >20</text>
</g>
<clipPath id="c3"><path d="M787.5,632.7 A187.5 187.5 0 1 0 821.25,644.3 L773,570 Z"/></clipPath>
<path d="M787.5,632.7 A187.5 187.5 0 1 0 821.25,644.3 L773,570 Z" fill="#fff" stroke="#222" stroke-width="2.29" stroke-linejoin="miter"/>
<g clip-path="url(#c3)">
<path d="M597,822 C620,832 640,836 655,838" fill="none" stroke="#555" stroke-width="1.49" />
<path d="M580,833 C592,835 600,838 606,841 C598,844 590,845 581,846" fill="none" stroke="#555" stroke-width="1.49" />
<path d="M588,862 C600,848 625,846 653,849" fill="none" stroke="#555" stroke-width="1.49" />
<path d="M607,870 C625,860 640,860 652,863" fill="none" stroke="#555" stroke-width="1.49" />
<path d="M673,838 C672,860 665,880 657,895" fill="none" stroke="#555" stroke-width="1.49" />
<path d="M686,838 C680,865 690,880 700,895 C704,905 706,915 707,925" fill="none" stroke="#555" stroke-width="1.49" />
<path d="M700,840 C694,855 700,870 706,880" fill="none" stroke="#555" stroke-width="1.49" />
<path d="M665,945 C666,920 672,895 679,885 C683,900 682,920 690,935 C697,945 703,950 707,955" fill="none" stroke="#555" stroke-width="1.49" />
<line x1="653.75" y1="667.5" x2="653.75" y2="779" stroke="#222" stroke-width="3.5" stroke-linecap="butt"/>
<line x1="684.25" y1="647.5" x2="684.25" y2="796" stroke="#222" stroke-width="5.5" stroke-linecap="butt"/>
<line x1="708.75" y1="637.5" x2="708.75" y2="796" stroke="#222" stroke-width="5.5" stroke-linecap="butt"/>
<circle cx="653.75" cy="667.5" r="1.75" fill="#222"/>
<circle cx="684.25" cy="647.5" r="2.75" fill="#222"/>
<circle cx="708.75" cy="637.5" r="2.75" fill="#222"/>
<line x1="682" y1="793.75" x2="711" y2="793.75" stroke="#222" stroke-width="5" stroke-linecap="butt"/>
<line x1="653.75" y1="763.25" x2="684.25" y2="763.25" stroke="#222" stroke-width="5" stroke-linecap="butt"/>
<polyline points="655.5,777.5 606.25,777.5 587.5,818.75" fill="none" stroke="#222" stroke-width="3.5" stroke-linejoin="miter"/>
<line x1="560" y1="819.25" x2="657" y2="819.25" stroke="#222" stroke-width="4" stroke-linecap="butt"/>
<line x1="655" y1="817.5" x2="655" y2="951.5" stroke="#222" stroke-width="4" stroke-linecap="butt"/>
<line x1="653" y1="835.75" x2="710.7" y2="835.75" stroke="#222" stroke-width="4" stroke-linecap="butt"/>
<line x1="708.75" y1="834" x2="708.75" y2="959" stroke="#222" stroke-width="4" stroke-linecap="butt"/>
<line x1="576.25" y1="873" x2="657" y2="873" stroke="#222" stroke-width="4" stroke-linecap="butt"/>
<line x1="657" y1="820" x2="814" y2="820" stroke="#222" stroke-width="1.3" stroke-linecap="butt"/>
<line x1="710" y1="836.25" x2="815" y2="836.25" stroke="#222" stroke-width="1.3" stroke-linecap="butt"/>
<line x1="711" y1="793.25" x2="740" y2="793.25" stroke="#222" stroke-width="1.3" stroke-linecap="butt"/>
<line x1="739.25" y1="763.75" x2="739.25" y2="777.25" stroke="#222" stroke-width="2.16" stroke-linecap="butt"/>
<polygon points="739.25,793.25 734.25,775.25 744.25,775.25" fill="#222"/>
<line x1="739.25" y1="855" x2="739.25" y2="837.25" stroke="#222" stroke-width="2.16" stroke-linecap="butt"/>
<polygon points="739.25,821.25 744.25,839.25 734.25,839.25" fill="#222"/>
<line x1="813.75" y1="781.25" x2="813.75" y2="801.5" stroke="#222" stroke-width="2.16" stroke-linecap="butt"/>
<polygon points="813.75,819.5 808.25,799.5 819.25,799.5" fill="#222"/>
<line x1="813.75" y1="876.25" x2="813.75" y2="855" stroke="#222" stroke-width="2.16" stroke-linecap="butt"/>
<polygon points="813.75,837 819.25,857 808.25,857" fill="#222"/>
<text x="751.5" y="811.3" font-size="27.5" text-anchor="start" fill="#262626" stroke="#262626" stroke-width="0.45" textLength="16" lengthAdjust="spacingAndGlyphs" >5</text>
<text x="822.5" y="837.5" font-size="27.5" text-anchor="start" fill="#262626" stroke="#262626" stroke-width="0.45" textLength="14" lengthAdjust="spacingAndGlyphs" >1</text>
<polygon points="822,665 774.5,749 870,749" fill="none" stroke="#222" stroke-width="3.12" stroke-linejoin="miter"/>
<polygon points="818.6,684.5 826.6,684.5 825.2,730.5 820,730.5" fill="#222"/>
<circle cx="822.5" cy="739.3" r="5.2" fill="#222"/>
</g>
<line x1="382.5" y1="1164.8" x2="382.5" y2="1237" stroke="#222" stroke-width="1.89" stroke-linecap="butt"/>
<line x1="652.2" y1="1164.8" x2="652.2" y2="1222.8" stroke="#222" stroke-width="1.89" stroke-linecap="butt"/>
<line x1="449.7" y1="1164.85" x2="401.5" y2="1164.85" stroke="#222" stroke-width="2.56" stroke-linecap="butt"/>
<polygon points="383,1164.85 403.5,1159.6 403.5,1170.1" fill="#222"/>
<line x1="601.75" y1="1164.85" x2="633.7" y2="1164.85" stroke="#222" stroke-width="2.56" stroke-linecap="butt"/>
<polygon points="652.2,1164.85 631.7,1170.1 631.7,1159.6" fill="#222"/>
<text x="462.5" y="1174.7" font-size="28.6" text-anchor="start" fill="#262626" stroke="#262626" stroke-width="0.45" textLength="131" lengthAdjust="spacingAndGlyphs" >min. 1500</text>
<path d="M383,1237 C405,1222 425,1220 441,1220.6 C470,1221 495,1229 513,1233.8 C535,1240 555,1243.8 570,1243.6 C590,1243 603,1236 611.6,1228.3" fill="none" stroke="#222" stroke-width="3.6" />
<path d="M390.6,1246.9 C410,1235 428,1232 441,1232 C470,1233 495,1241 513,1245.8 C535,1252 555,1255.8 570,1255.6 C592,1254 607,1247 618,1236" fill="none" stroke="#222" stroke-width="3.6" />
<line x1="616.7" y1="1231" x2="614.3" y2="1197.7" stroke="#222" stroke-width="2.29" stroke-linecap="butt"/>
<line x1="616.7" y1="1231" x2="631.3" y2="1199.9" stroke="#222" stroke-width="2.29" stroke-linecap="butt"/>
<line x1="616.7" y1="1231" x2="644.4" y2="1209.6" stroke="#222" stroke-width="2.29" stroke-linecap="butt"/>
<line x1="616.7" y1="1231" x2="652.2" y2="1222.2" stroke="#222" stroke-width="2.29" stroke-linecap="butt"/>
<line x1="446.4" y1="1227.2" x2="423.4" y2="1263.3" stroke="#222" stroke-width="2.16" stroke-linecap="butt"/>
<text x="383" y="1295" font-size="28.2" text-anchor="start" fill="#262626" stroke="#262626" stroke-width="0.45" textLength="155" lengthAdjust="spacingAndGlyphs" >H05 V V - F</text>
<polyline points="963.75,1097.5 950.5,1097.5 950.5,1044.5 1240.75,1044.5 1240.75,1096.25 1227.5,1096.25" fill="none" stroke="#333" stroke-width="2.7" stroke-linejoin="miter"/>
<polyline points="963.75,1102.5 950.5,1102.5 950.5,1330.5 963.75,1330.5" fill="none" stroke="#333" stroke-width="2.7" stroke-linejoin="miter"/>
<polyline points="1227.5,1102 1240.75,1102 1240.75,1330.5 1227.5,1330.5" fill="none" stroke="#333" stroke-width="2.7" stroke-linejoin="miter"/>
<rect x="964.5" y="1053.75" width="262.5" height="280" fill="none" stroke="#333" stroke-width="2.6"/>
<line x1="964.5" y1="1081.25" x2="1227" y2="1081.25" stroke="#333" stroke-width="2.03" stroke-linecap="butt"/>
<line x1="964.5" y1="1104" x2="1227" y2="1104" stroke="#444" stroke-width="1.49" stroke-linecap="butt"/>
<polyline points="1140.75,1082 1140.75,1100.4 1221.25,1100.4" fill="none" stroke="#333" stroke-width="1.76" stroke-linejoin="miter"/>
<line x1="1228" y1="1099.2" x2="1240" y2="1099.2" stroke="#999" stroke-width="1.76" stroke-linecap="butt"/>
<line x1="951" y1="1100" x2="963.5" y2="1100" stroke="#999" stroke-width="1.76" stroke-linecap="butt"/>
<rect x="1209" y="1090.6" width="9.7" height="9.6" fill="#fff" stroke="#333" stroke-width="1.9"/>
<rect x="971.25" y="1110" width="249.5" height="212" rx="14" ry="14" fill="none" stroke="#6a6a6a" stroke-width="1.4"/>
<path d="M1026.25,1110 V1237.5 Q1026.25,1249.5 1038.25,1249.5 H1153 Q1165,1249.5 1165,1237.5 V1110" fill="none" stroke="#6a6a6a" stroke-width="1.89" />
<path d="M971.25,1266 Q971.25,1278.75 984,1278.75 H1050 Q1062,1278.75 1062,1290.75 V1303.75 Q1062,1316.25 1075,1316.25 H1117.5 Q1129.5,1316.25 1129.5,1303.75 V1290.75 Q1129.5,1278.75 1141.5,1278.75 H1208 Q1220.75,1278.75 1220.75,1266" fill="none" stroke="#6a6a6a" stroke-width="1.89" />
<line x1="1095" y1="1026.25" x2="1095" y2="1044" stroke="#666" stroke-width="1.56" stroke-linecap="butt"/>
<line x1="1095" y1="1050" x2="1095" y2="1343" stroke="#626262" stroke-width="2.84" stroke-dasharray="10 9.3" stroke-linecap="butt"/>
<line x1="1214.25" y1="1026.25" x2="1214.25" y2="1091.25" stroke="#333" stroke-width="1.43" stroke-linecap="butt"/>
<line x1="1127.5" y1="1026.25" x2="1115" y2="1026.25" stroke="#222" stroke-width="2.43" stroke-linecap="butt"/>
<polygon points="1096,1026.25 1117,1021.25 1117,1031.25" fill="#222"/>
<line x1="1182.5" y1="1026.25" x2="1194.75" y2="1026.25" stroke="#222" stroke-width="2.43" stroke-linecap="butt"/>
<polygon points="1213.75,1026.25 1192.75,1031.25 1192.75,1021.25" fill="#222"/>
<text x="1130" y="1036.5" font-size="28.8" text-anchor="start" fill="#262626" stroke="#262626" stroke-width="0.45" textLength="50.5" lengthAdjust="spacingAndGlyphs" >245</text>
<path d="M1217.6,1091.3 L1259.6,1053.6 A25.2 25.2 0 1 1 1264.2,1067.8 Z" fill="#fff" stroke="#fff" stroke-width="7.5" stroke-linejoin="round"/>
<path d="M1217.6,1091.3 L1259.6,1053.6 A25.2 25.2 0 1 1 1264.2,1067.8 Z" fill="#fff" stroke="#222" stroke-width="2.36" />
<circle cx="1284.8" cy="1053.4" r="14.7" fill="#fff" stroke="#222" stroke-width="2.4"/>
<polygon points="1284.4,1043.32 1287.04,1043.4 1285.84,1050.76 1288.96,1049.64 1285.28,1063.32 1284.32,1063.32 1285.84,1053.64 1280.64,1054.84" fill="#222"/>
<line x1="1228.75" y1="1095.75" x2="1295" y2="1095.75" stroke="#333" stroke-width="1.56" stroke-linecap="butt"/>
<line x1="1227" y1="1333.75" x2="1295" y2="1333.75" stroke="#333" stroke-width="1.56" stroke-linecap="butt"/>
<line x1="1295" y1="1175" x2="1295" y2="1115.25" stroke="#222" stroke-width="2.43" stroke-linecap="butt"/>
<polygon points="1295,1096.25 1300.5,1117.25 1289.5,1117.25" fill="#222"/>
<line x1="1295" y1="1212.5" x2="1295" y2="1314.75" stroke="#222" stroke-width="2.43" stroke-linecap="butt"/>
<polygon points="1295,1333.75 1289.5,1312.75 1300.5,1312.75" fill="#222"/>
<text x="1270" y="1204" font-size="28.8" text-anchor="start" fill="#262626" stroke="#262626" stroke-width="0.45" textLength="50.5" lengthAdjust="spacingAndGlyphs" >490</text>
</g>
</svg>
</body></html>
